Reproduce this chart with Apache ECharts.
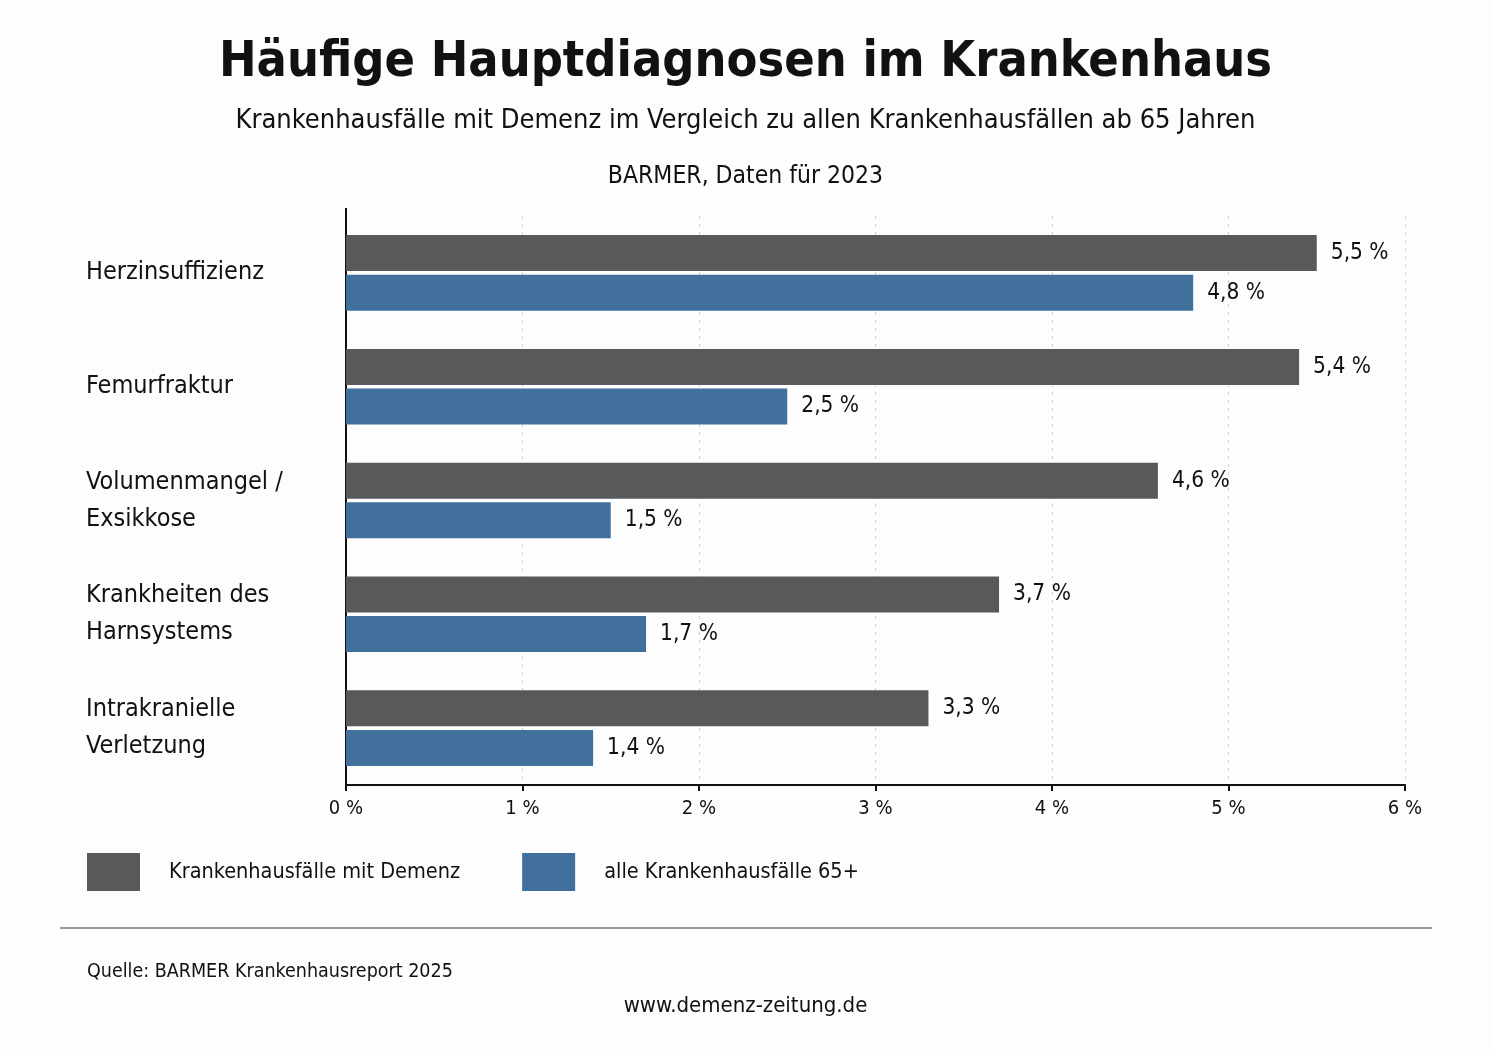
<!DOCTYPE html>
<html>
<head>
  <meta charset="UTF-8">
  <title>Häufige Hauptdiagnosen im Krankenhaus</title>
  <style>
    html, body { margin: 0; padding: 0; background: #fdfdfd; }
    #chart { width: 1491px; height: 1055px; }
  </style>
  <script src="https://cdn.jsdelivr.net/npm/echarts@6/dist/echarts.min.js"></script>
</head>
<body>
  <div id="chart"></div>
  <script>
    var FONT = '"Liberation Sans Narrow", "DejaVu Sans Condensed", "Noto Sans", sans-serif';

    // Daten aus dem Diagramm
    var categories = ['Herzinsuffizienz', 'Femurfraktur', 'Volumenmangel /\nExsikkose',
                      'Krankheiten des\nHarnsystems', 'Intrakranielle\nVerletzung'];
    var seriesNames = ['Krankenhausfälle mit Demenz', 'alle Krankenhausfälle 65+'];
    var demenzValues = [5.5, 5.4, 4.6, 3.7, 3.3];
    var alleValues = [4.8, 2.5, 1.5, 1.7, 1.4];
    var colors = ['#58595b', '#41709c'];

    var chart = echarts.init(document.getElementById('chart'));

    function pct(v) { return String(v).replace('.', ',') + ' %'; }

    function barSeries(name, data, color) {
      return {
        name: name,
        type: 'bar',
        data: data,
        barWidth: 36,
        barGap: '10%',
        itemStyle: { color: color },
        label: {
          show: true,
          position: 'right',
          distance: 14,
          color: '#111',
          fontFamily: FONT,
          fontSize: 22.5,
          padding: [4, 0, 0, 0],
          formatter: function (p) { return pct(p.value); }
        }
      };
    }

    var option = {
      backgroundColor: '#fdfdfd',
      title: [
        {
          text: 'Häufige Hauptdiagnosen im Krankenhaus',
          left: 'center', top: 33,
          textStyle: { fontFamily: FONT, fontSize: 50, fontWeight: 'bold', color: '#111' }
        },
        {
          text: 'Krankenhausfälle mit Demenz im Vergleich zu allen Krankenhausfällen ab 65 Jahren',
          left: 'center', top: 102,
          textStyle: { fontFamily: FONT, fontSize: 27, fontWeight: 'normal', color: '#111' }
        },
        {
          text: 'BARMER, Daten für 2023',
          left: 'center', top: 159,
          textStyle: { fontFamily: FONT, fontSize: 24.5, fontWeight: 'normal', color: '#111' }
        }
      ],
      legend: {
        left: 87, top: 853, padding: 0,
        itemWidth: 53, itemHeight: 38, itemGap: 62,
        icon: 'rect',
        data: seriesNames,
        textStyle: { fontFamily: FONT, fontSize: 21.5, color: '#111', padding: [4, 0, 0, 24] }
      },
      grid: { left: 346, right: 86, top: 216, bottom: 270, containLabel: false },
      xAxis: {
        type: 'value',
        min: 0, max: 6, interval: 1,
        axisLine: { show: true, lineStyle: { color: '#111', width: 2 } },
        axisTick: { show: true, length: 6, lineStyle: { color: '#111', width: 2 } },
        axisLabel: {
          margin: 14, color: '#111', fontFamily: FONT, fontSize: 20,
          formatter: function (v) { return v + ' %'; }
        },
        splitLine: { show: true, lineStyle: { color: '#cfcfcf', type: [3, 5], width: 1 } }
      },
      yAxis: {
        type: 'category',
        data: categories,
        inverse: true,
        axisLine: { show: true, lineStyle: { color: '#111', width: 2 } },
        axisTick: { show: false },
        axisLabel: {
          align: 'left', margin: 260, color: '#111',
          fontFamily: FONT, fontSize: 25, lineHeight: 37,
          padding: [0, 0, 10, 0]
        }
      },
      series: [
        barSeries(seriesNames[0], demenzValues, colors[0]),
        barSeries(seriesNames[1], alleValues, colors[1])
      ],
      graphic: [
        {
          type: 'rect', shape: { x: 345, y: 208, width: 2, height: 10 },
          style: { fill: '#111' }
        },
        {
          type: 'line', shape: { x1: 60, y1: 928, x2: 1432, y2: 928 },
          style: { stroke: '#9a9a9a', lineWidth: 2 }
        },
        {
          type: 'text', left: 87, top: 962,
          style: { text: 'Quelle: BARMER Krankenhausreport 2025', fill: '#111', font: '19.5px ' + FONT }
        },
        {
          type: 'text', left: 'center', top: 995,
          style: { text: 'www.demenz-zeitung.de', fill: '#111', font: '22px ' + FONT }
        }
      ]
    };

    chart.setOption(option);
  </script>
</body>
</html>
